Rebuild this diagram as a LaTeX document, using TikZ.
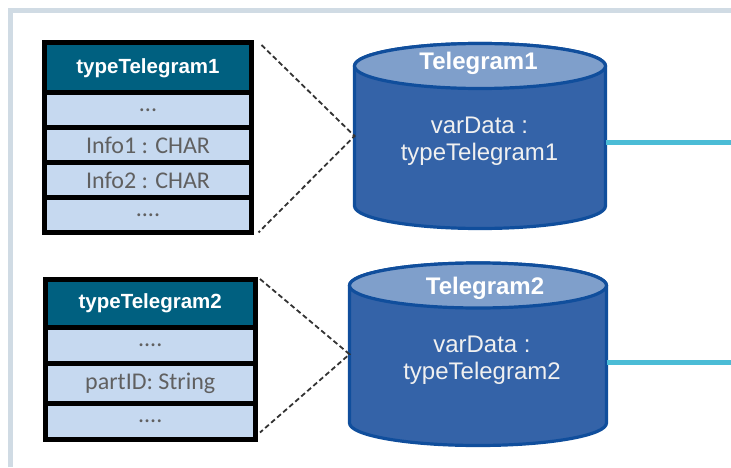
\documentclass[tikz,border=0pt]{standalone}
\usepackage{fontspec}
\setmainfont{Liberation Sans}
\newfontfamily\cellfont{Carlito}
\definecolor{frameC}{RGB}{208,219,228}
\definecolor{headC}{RGB}{0,96,128}
\definecolor{rowC}{RGB}{198,217,240}
\definecolor{rowtxt}{RGB}{96,96,96}
\definecolor{bodyC}{RGB}{52,99,168}
\definecolor{lidC}{RGB}{127,159,203}
\definecolor{cylborder}{RGB}{16,78,156}
\definecolor{cyanC}{RGB}{75,188,214}
\tikzset{
  cell/.style={rectangle, draw=black, line width=5pt, inner sep=0pt, outer sep=0pt},
  headcell/.style={cell, fill=headC, text=white, font=\fontsize{20.5}{24}\selectfont\bfseries},
  rowcell/.style={cell, fill=rowC, text=rowtxt, font=\cellfont\fontsize{24}{28}\selectfont},
  cylnode/.style={rectangle, draw=none, inner sep=0pt, outer sep=0pt},
  cylbody/.style={fill=bodyC, draw=cylborder, line width=3.2pt, line join=round},
  cyllid/.style={fill=lidC, draw=cylborder, line width=3.2pt},
  cyltitle/.style={text=white, font=\fontsize{24}{28}\selectfont\bfseries},
  cyltext/.style={text=white!94!black, align=center, font=\fontsize{24}{27}\selectfont},
  dashlink/.style={draw=black!80, dash pattern=on 5pt off 3pt, line width=1.8pt},
  cyanlink/.style={draw=cyanC, line width=5pt},
}
\begin{document}
\begin{tikzpicture}[x=1pt,y=1pt]
\useasboundingbox (0,0) rectangle (731,467);
% frame
\draw[frameC, line width=4.5pt] (10.5,0) -- (10.5,456.5) -- (731,456.5);

% table 1
\node[headcell, minimum width=207pt, minimum height=49.5pt] (t1h) at (148,399.25) {typeTelegram1};
\node[rowcell, minimum width=207pt, minimum height=35pt] (t1a) at (148,357) {...};
\node[rowcell, minimum width=207pt, minimum height=35pt] (t1b) at (148,322) {Info1 : CHAR};
\node[rowcell, minimum width=207pt, minimum height=35pt] (t1c) at (148,287) {Info2 : CHAR};
\node[rowcell, minimum width=207pt, minimum height=35pt] (t1d) at (148,252) {....};

% table 2
\node[headcell, minimum width=209.5pt, minimum height=48.5pt] (t2h) at (150.25,163.75) {typeTelegram2};
\node[rowcell, minimum width=209.5pt, minimum height=36pt] (t2a) at (150.25,121.5) {....};
\node[rowcell, minimum width=209.5pt, minimum height=40pt] (t2b) at (150.25,83.5) {partID: String};
\node[rowcell, minimum width=209.5pt, minimum height=36pt] (t2c) at (150.25,45.5) {....};

% cylinder 1
\node[cylnode, minimum width=251pt, minimum height=140pt] (c1) at (480,331) {};
\path[cylbody] (c1.north west) -- (c1.south west)
  arc[start angle=180, end angle=360, x radius=125.5pt, y radius=22.5pt]
  -- (c1.north east)
  arc[start angle=0, end angle=180, x radius=125.5pt, y radius=22.5pt] -- cycle;
\path[cyllid] (c1.north) ellipse[x radius=125.5pt, y radius=22.5pt];
\node[cyltitle] (c1t) at (478.5,404) {Telegram1};
\node[cyltext] (c1x) at (479.5,326) {varData :\\typeTelegram1};

% cylinder 2
\node[cylnode, minimum width=257pt, minimum height=137.5pt] (c2) at (478,112.75) {};
\path[cylbody] (c2.north west) -- (c2.south west)
  arc[start angle=180, end angle=360, x radius=128.5pt, y radius=22.5pt]
  -- (c2.north east)
  arc[start angle=0, end angle=180, x radius=128.5pt, y radius=22.5pt] -- cycle;
\path[cyllid] (c2.north) ellipse[x radius=128.5pt, y radius=22.5pt];
\node[cyltitle] (c2t) at (485,179) {Telegram2};
\node[cyltext] (c2x) at (482,107) {varData :\\typeTelegram2};

% dashed links
\draw[dashlink] ([xshift=10pt,yshift=-2pt]t1h.north east) -- (c1.west) -- ([xshift=7pt]t1d.south east);
\draw[dashlink] ([xshift=5pt]t2h.north east) -- (c2.west) -- ([xshift=5pt,yshift=7pt]t2c.south east);

% cyan links
\coordinate (e1) at (731,325);
\coordinate (e2) at (731,105);
\draw[cyanlink] (e1 -| c1.east) -- (e1);
\draw[cyanlink] (e2 -| c2.east) -- (e2);
\end{tikzpicture}
\end{document}
